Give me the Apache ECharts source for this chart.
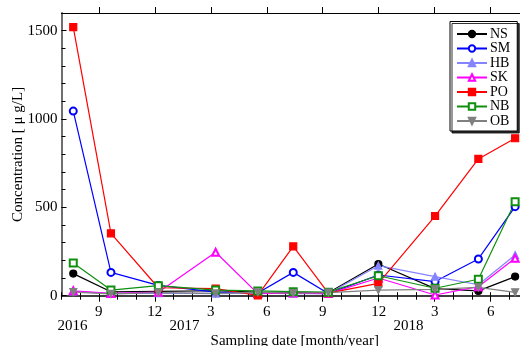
<!DOCTYPE html>
<html>
<head>
<meta charset="utf-8">
<script src="https://cdn.jsdelivr.net/npm/echarts@6/dist/echarts.min.js"></script>
<style>html,body{margin:0;padding:0;background:#fff}#c{width:520px;height:346px}</style>
</head>
<body>
<div id="c"></div>
<script>
// Sampling dates as month positions (Sep 2016 = 9, Jan 2017 = 13, Jan 2018 = 25)
const sampleMonths = [7.63, 9.65, 12.19, 15.26, 17.52, 19.42, 21.30, 23.98, 27.02, 29.34, 31.31];
const seriesNames = ['NS', 'SM', 'HB', 'SK', 'PO', 'NB', 'OB'];
const NS = [125, 22, 25, 28, 20, 18, 17, 179, 40, 27, 108];
const SM = [1045, 132, 58, 20, 15, 132, 12, 117, 80, 208, 504];
const HB = [25, 12, 15, 12, 15, 12, 12, 170, 108, 62, 230];
const SK = [28, 13, 20, 246, 12, 15, 12, 100, 4, 51, 212];
const PO = [1520, 353, 45, 40, 2, 279, 15, 70, 451, 774, 891];
const NB = [185, 32, 57, 32, 27, 23, 20, 113, 42, 93, 532];
const OB = [20, 10, 17, 13, 19, 15, 17, 32, 36, 47, 19];
const majorMonthTicks = [9, 12, 15, 18, 21, 24, 27, 30];
const yearTicks = [7, 13, 25];
const yearLabels = ['2016', '2017', '2018'];
const yTickLabels = [0, 500, 1000, 1500];

const values = {NS, SM, HB, SK, PO, NB, OB};
const styles = {
  NS: {color: '#000000', symbol: 'circle'},
  SM: {color: '#0000ff', symbol: 'emptyCircle'},
  HB: {color: '#8484ff', symbol: 'triangle'},
  SK: {color: '#ff00ff', symbol: 'emptyTriangle'},
  PO: {color: '#ff0000', symbol: 'rect'},
  NB: {color: '#109010', symbol: 'emptyRect'},
  OB: {color: '#808080', symbol: 'path://M0,0 L10,0 L5,9 Z'}
};
const FONT = '"Liberation Serif", "DejaVu Serif", serif';
const X_MIN = 7, X_MAX = 32;

const chart = echarts.init(document.getElementById('c'), null, {renderer: 'canvas'});
const series = seriesNames.map(n => ({
  name: n,
  type: 'line',
  xAxisIndex: 0,
  yAxisIndex: 0,
  data: sampleMonths.map((m, i) => [m, values[n][i]]),
  symbol: styles[n].symbol,
  symbolSize: 7,
  showAllSymbol: true,
  lineStyle: {color: styles[n].color, width: 1.2},
  itemStyle: {color: styles[n].color, borderColor: styles[n].color, borderWidth: 1.2},
  emphasis: {disabled: true},
  animation: false
}));

chart.setOption({
  animation: false,
  grid: {left: 61.5, top: 13, width: 466.5, bottom: 50.3, containLabel: false, outerBoundsMode: 'none'},
  legend: {
    data: seriesNames,
    orient: 'vertical',
    left: 450, top: 21.5,
    itemWidth: 30, itemHeight: 8, itemGap: 0.5,
    padding: [5.5, 7, 3, 6],
    backgroundColor: '#fff',
    borderColor: '#000', borderWidth: 1,
    shadowColor: 'rgba(0,0,0,0.8)', shadowOffsetX: 2, shadowOffsetY: 2, shadowBlur: 0,
    textStyle: {fontFamily: FONT, fontSize: 14, color: '#000', padding: [0, 0, 0, -2]}
  },
  xAxis: [
    {
      type: 'value', position: 'bottom', min: X_MIN, max: X_MAX,
      name: 'Sampling date [month/year]', nameLocation: 'middle', nameGap: 38, nameMoveOverlap: false,
      nameTextStyle: {fontFamily: FONT, fontSize: 15, color: '#000'},
      axisLine: {show: true, onZero: false, lineStyle: {color: '#000', width: 1.5}},
      axisTick: {show: true, inside: false, length: 6, customValues: majorMonthTicks, lineStyle: {color: '#000', width: 1}},
      axisLabel: {show: true, customValues: majorMonthTicks, margin: 9, fontFamily: FONT, fontSize: 15, color: '#000',
        formatter: v => String(((Math.round(v) - 1) % 12) + 1)},
      splitLine: {show: false}
    },
    {
      type: 'value', position: 'bottom', min: X_MIN, max: X_MAX, interval: 1,
      axisLine: {show: false}, axisLabel: {show: false}, splitLine: {show: false},
      axisTick: {show: true, inside: false, length: 4, lineStyle: {color: '#000', width: 1}}
    },
    {
      type: 'value', position: 'top', min: X_MIN, max: X_MAX,
      axisLine: {show: true, onZero: false, lineStyle: {color: '#000', width: 1.2}},
      axisTick: {show: true, inside: false, length: 6, customValues: majorMonthTicks, lineStyle: {color: '#000', width: 1}},
      axisLabel: {show: false}, splitLine: {show: false}
    },
    {
      type: 'value', position: 'top', min: X_MIN, max: X_MAX, interval: 1,
      axisLine: {show: false}, axisLabel: {show: false}, splitLine: {show: false},
      axisTick: {show: true, inside: false, length: 3.5, lineStyle: {color: '#000', width: 1}}
    }
  ],
  yAxis: [
    {
      type: 'value', position: 'left', min: 0, max: 1600,
      name: 'Concentration [ μ g/L]', nameLocation: 'middle', nameGap: 36, nameMoveOverlap: false,
      nameTextStyle: {fontFamily: FONT, fontSize: 15, color: '#000'},
      axisLine: {show: true, onZero: false, lineStyle: {color: '#6e6e6e', width: 2}},
      axisTick: {show: true, inside: true, length: 5, customValues: yTickLabels, lineStyle: {color: '#000', width: 1}},
      axisLabel: {show: true, customValues: yTickLabels, margin: 4, fontFamily: FONT, fontSize: 15, color: '#000',
        formatter: v => String(v)},
      splitLine: {show: false}
    },
    {
      type: 'value', position: 'left', min: 0, max: 1600, interval: 100,
      axisLine: {show: false}, axisLabel: {show: false}, splitLine: {show: false},
      axisTick: {show: true, inside: true, length: 4, lineStyle: {color: '#000', width: 1}}
    }
  ],
  series: series
});

// Year labels, left-aligned just before January of each year (2016 at the axis start)
const yearGraphics = yearTicks.map((m, i) => {
  const p = chart.convertToPixel({xAxisIndex: 0, yAxisIndex: 0}, [m, 0]);
  return {
    type: 'text', left: p[0] - 4, top: p[1] + 23,
    style: {text: yearLabels[i], font: '15px ' + FONT, fill: '#000'}
  };
});
chart.setOption({graphic: yearGraphics});
</script>
</body>
</html>
